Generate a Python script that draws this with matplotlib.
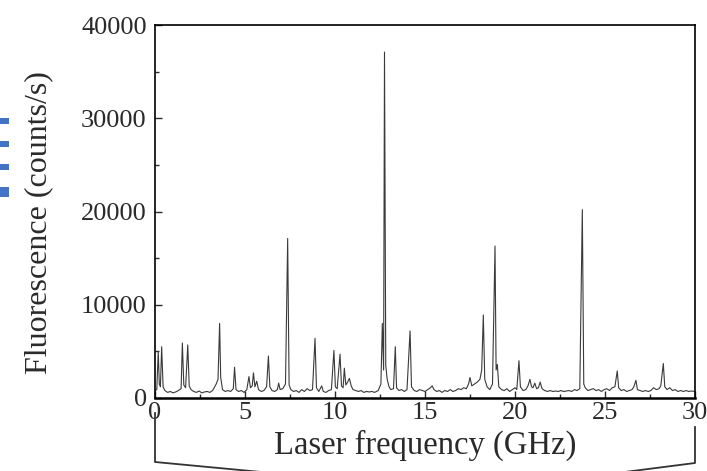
import matplotlib
matplotlib.use("Agg")
import matplotlib.pyplot as plt
from matplotlib.lines import Line2D
from matplotlib.patches import Rectangle
from matplotlib.ticker import MultipleLocator
from matplotlib.transforms import blended_transform_factory

# spectrum (GHz, counts/s)
freq_ghz = [
    0.00, 0.10, 0.18, 0.24, 0.30, 0.37, 0.45, 0.55, 0.70, 0.85, 1.00, 1.15, 1.30, 1.45, 1.52, 1.60,
    1.70, 1.82, 1.90, 2.00, 2.15, 2.30, 2.45, 2.60, 2.75, 2.90, 3.05, 3.20, 3.40, 3.50, 3.59, 3.65,
    3.75, 3.90, 4.05, 4.20, 4.35, 4.42, 4.50, 4.65, 4.80, 4.95, 5.10, 5.22, 5.30, 5.40, 5.47, 5.55,
    5.65, 5.75, 5.90, 6.05, 6.20, 6.30, 6.38, 6.50, 6.65, 6.80, 6.87, 6.95, 7.10, 7.25, 7.37, 7.45,
    7.55, 7.70, 7.85, 8.00, 8.15, 8.30, 8.45, 8.60, 8.75, 8.89, 8.97, 9.10, 9.26, 9.35, 9.50, 9.65,
    9.80, 9.94, 10.02, 10.12, 10.28, 10.36, 10.45, 10.52, 10.60, 10.70, 10.80, 10.90, 11.00, 11.15,
    11.30, 11.45, 11.60, 11.75, 11.90, 12.05, 12.20, 12.40, 12.55, 12.63, 12.70, 12.75, 12.82, 12.90,
    13.00, 13.10, 13.25, 13.35, 13.42, 13.55, 13.70, 13.85, 14.00, 14.17, 14.25, 14.40, 14.55, 14.70,
    14.85, 15.00, 15.15, 15.30, 15.40, 15.50, 15.65, 15.80, 15.95, 16.10, 16.25, 16.40, 16.55, 16.70,
    16.85, 17.00, 17.15, 17.30, 17.42, 17.50, 17.60, 17.75, 17.90, 18.05, 18.15, 18.24, 18.32, 18.45,
    18.60, 18.75, 18.89, 18.95, 19.02, 19.10, 19.25, 19.40, 19.55, 19.70, 19.85, 20.00, 20.10, 20.22,
    20.30, 20.45, 20.60, 20.72, 20.83, 20.92, 21.00, 21.10, 21.20, 21.30, 21.40, 21.50, 21.65, 21.80,
    21.95, 22.10, 22.25, 22.40, 22.55, 22.70, 22.85, 23.00, 23.15, 23.30, 23.45, 23.60, 23.74, 23.82,
    23.90, 24.05, 24.20, 24.35, 24.50, 24.65, 24.80, 24.95, 25.10, 25.25, 25.40, 25.55, 25.68, 25.76,
    25.90, 26.05, 26.20, 26.35, 26.50, 26.60, 26.72, 26.80, 26.95, 27.10, 27.25, 27.40, 27.55, 27.70,
    27.85, 28.00, 28.10, 28.24, 28.32, 28.45, 28.60, 28.75, 28.90, 29.05, 29.20, 29.35, 29.50, 29.65,
    29.80, 30.00,
]
counts = [
    800, 900, 5000, 1500, 1200, 5500, 1200, 800, 600, 700, 550, 650, 800, 1000, 5900, 1400,
    1100, 5700, 1300, 900, 700, 600, 750, 550, 650, 700, 600, 800, 1500, 2000, 8000, 2200,
    900, 700, 800, 700, 1000, 3300, 900, 700, 800, 600, 900, 2300, 1100, 1300, 2700, 1200,
    1800, 900, 700, 800, 1200, 4500, 1200, 800, 700, 900, 1600, 900, 1000, 1500, 17100, 1400,
    900, 700, 800, 600, 900, 700, 1000, 800, 900, 6400, 1100, 700, 1300, 700, 600, 800,
    900, 5100, 1200, 1000, 4700, 1300, 1100, 3200, 1400, 1700, 2100, 1300, 900, 800,
    700, 800, 600, 700, 650, 700, 600, 800, 1500, 8000, 3000, 37100, 3500, 2000,
    1200, 900, 1000, 5500, 1100, 800, 900, 700, 900, 7200, 1200, 800, 700, 900,
    800, 700, 900, 1100, 1300, 900, 700, 800, 600, 800, 700, 900, 700, 800,
    1000, 900, 1100, 1000, 1500, 2200, 1300, 1500, 1700, 2000, 3000, 8900, 2000, 1200,
    900, 1500, 16300, 3000, 3600, 1200, 900, 800, 1000, 700, 900, 1100, 900, 4000,
    1200, 800, 900, 1300, 2000, 1200, 1100, 1600, 1000, 1100, 1700, 1000, 800, 700,
    800, 700, 750, 700, 800, 700, 750, 800, 700, 900, 800, 1000, 20200, 1500,
    1100, 800, 900, 1000, 800, 900, 700, 900, 1000, 800, 1100, 1200, 2900, 1100,
    800, 900, 700, 800, 900, 1200, 1900, 900, 800, 700, 800, 700, 800, 1100,
    900, 1000, 1300, 3700, 1200, 900, 1100, 800, 900, 700, 800, 700, 800, 700,
    750, 700,
]

xticks = [0, 5, 10, 15, 20, 25, 30]
yticks = [0, 10000, 20000, 30000, 40000]

plt.rcParams['font.family'] = ['Liberation Serif', 'DejaVu Serif']

W, H = 707, 471
fig = plt.figure(figsize=(W / 100, H / 100), dpi=100)
ax = fig.add_axes([155 / W, 1 - 398 / H, 540 / W, 373 / H])

ax.plot(freq_ghz, counts, color='#3a3a3a', linewidth=0.8)

ax.set_xlim(0, 30)
ax.set_ylim(0, 40000)
ax.set_xticks(xticks)
ax.set_yticks(yticks)
ax.xaxis.set_minor_locator(MultipleLocator(2.5))
ax.yaxis.set_minor_locator(MultipleLocator(5000))
ax.tick_params(which='both', direction='in', labelsize=19, colors='#2a2a2a')
ax.tick_params(which='major', length=5, width=1.0)
ax.tick_params(which='minor', length=3, width=1.0)
ax.tick_params(axis='y', pad=6)
ax.tick_params(axis='x', pad=3)
for s in ax.spines.values():
    s.set_linewidth(1.2)
ax.spines['bottom'].set_linewidth(1.8)

ax.set_xlabel('Laser frequency (GHz)', fontsize=23.5, color='#2a2a2a', labelpad=4)
ax.set_ylabel('Fluorescence (counts/s)', fontsize=23, color='#2a2a2a')
ax.yaxis.set_label_coords((53 - 155) / 540, (398 - 223) / 373)

# bracket under the axis
tr = blended_transform_factory(ax.transData, fig.transFigure)
def fy(py):
    return 1 - py / H
fig.add_artist(Line2D([0, 0, 5.9], [fy(413), fy(462), fy(472)], transform=tr,
                      color='#333333', linewidth=1.3))
fig.add_artist(Line2D([30, 30, 26.1], [fy(427), fy(463), fy(472)], transform=tr,
                      color='#333333', linewidth=1.3))

# clipped blue marks on the left edge
for top, h in [(118, 6), (141, 6), (164, 6), (187, 10)]:
    fig.add_artist(Rectangle((0, fy(top + h)), 9 / W, h / H, transform=fig.transFigure,
                             color='#4472c4', linewidth=0))

fig.savefig('out.png', dpi=100)
